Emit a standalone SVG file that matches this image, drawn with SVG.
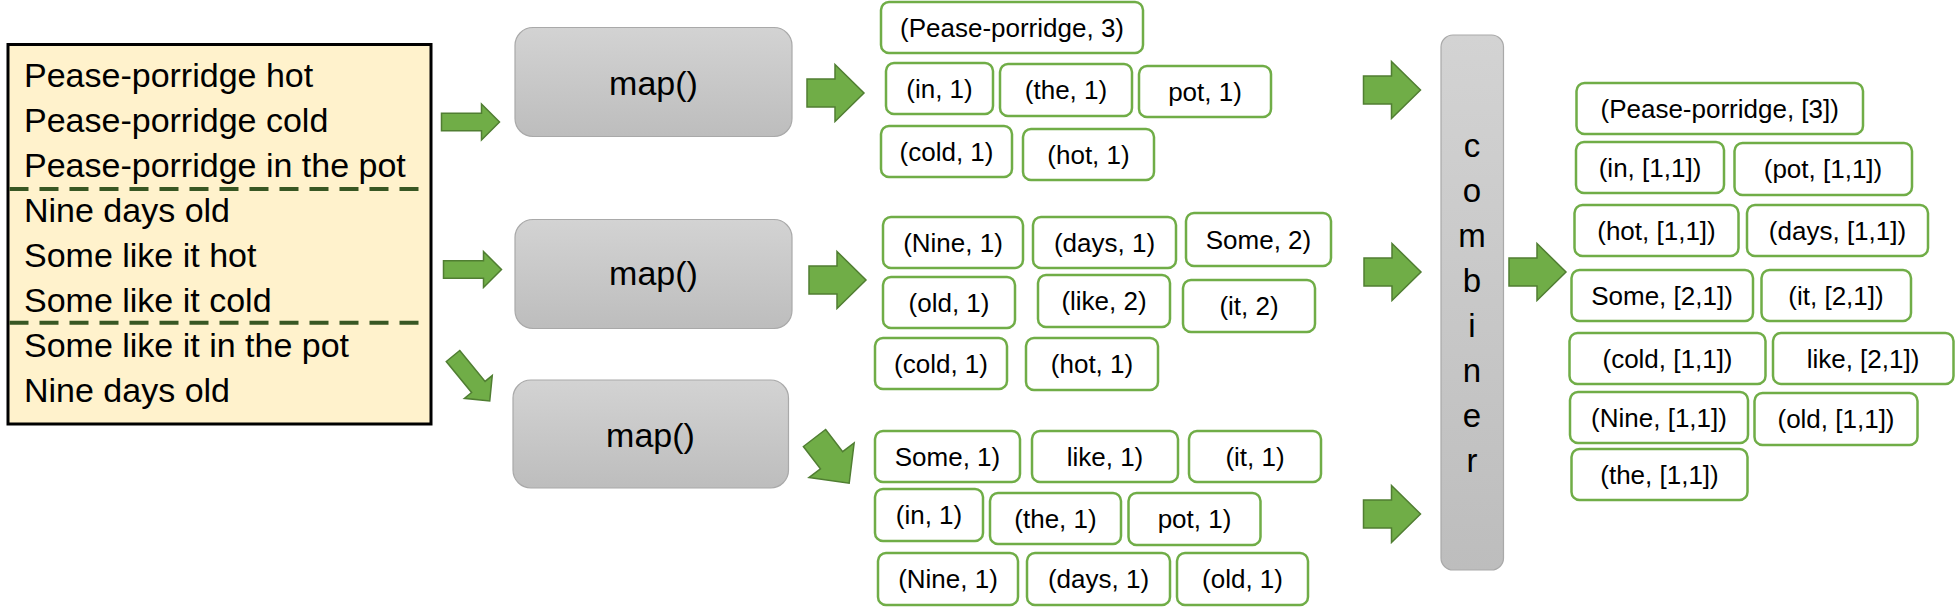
<svg xmlns="http://www.w3.org/2000/svg" xmlns:xlink="http://www.w3.org/1999/xlink" width="1955" height="615" viewBox="0 0 1955 615">
<style>
text{font-family:"Liberation Sans",Arial,sans-serif;fill:#000}
.src{font-size:34px}
.map{font-size:34px;text-anchor:middle}
.comb{font-size:33px;text-anchor:middle}
.tup rect{fill:#fff;stroke:#70AD47;stroke-width:2.5}
.tup text{font-size:26px;text-anchor:middle}
.proc{stroke:#A9A9A9;stroke-width:1.2}
.arr{fill:#70AD47;stroke:#507E32;stroke-width:1.5}
.dash{stroke:#385723;stroke-width:4;stroke-dasharray:19 11}
</style>
<defs>
<linearGradient id="gray" x1="0" y1="0" x2="0" y2="1">
<stop offset="0" stop-color="#D3D3D3"/>
<stop offset="1" stop-color="#BDBDBD"/>
</linearGradient>
<path id="arrS" d="M0,-8.7 H40 V-18 L58,0 L40,18 V8.7 H0 Z"/>
<path id="arrB" d="M0,-14 H28 V-28.5 L57,0 L28,28.5 V14 H0 Z"/>
</defs>
<rect width="1955" height="615" fill="#fff"/>

<g id="input">
<rect x="8" y="44.5" width="423" height="379.5" fill="#FFF2CC" stroke="#000" stroke-width="3"/>
<line class="dash" x1="9.5" y1="189" x2="429.5" y2="189"/>
<line class="dash" x1="9.5" y1="322.7" x2="429.5" y2="322.7"/>
<text class="src" x="24" y="87.3">Pease-porridge hot</text>
<text class="src" x="24" y="132.3">Pease-porridge cold</text>
<text class="src" x="24" y="176.7">Pease-porridge in the pot</text>
<text class="src" x="24" y="221.7">Nine days old</text>
<text class="src" x="24" y="266.7">Some like it hot</text>
<text class="src" x="24" y="311.7">Some like it cold</text>
<text class="src" x="24" y="356.7">Some like it in the pot</text>
<text class="src" x="24" y="401.7">Nine days old</text>
</g>

<g id="map1"><rect class="proc" x="515" y="27.5" width="277" height="109" rx="18" fill="url(#gray)"/><text class="map" x="653.5" y="95">map()</text></g>
<g id="map2"><rect class="proc" x="515" y="219.5" width="277" height="109" rx="18" fill="url(#gray)"/><text class="map" x="653.5" y="285">map()</text></g>
<g id="map3"><rect class="proc" x="513" y="380" width="275.5" height="108" rx="18" fill="url(#gray)"/><text class="map" x="650.5" y="447">map()</text></g>

<g id="combiner">
<rect class="proc" x="1441" y="35" width="62.5" height="535" rx="12" fill="url(#gray)"/>
<text class="comb" x="1472" y="156.7">c</text>
<text class="comb" x="1472" y="201.7">o</text>
<text class="comb" x="1472" y="246.7">m</text>
<text class="comb" x="1472" y="291.7">b</text>
<text class="comb" x="1472" y="336.7">i</text>
<text class="comb" x="1472" y="381.7">n</text>
<text class="comb" x="1472" y="426.7">e</text>
<text class="comb" x="1472" y="471.7">r</text>
</g>

<g id="t1_1" class="tup"><rect x="881" y="2" width="262" height="51" rx="8"/><text x="1012" y="36.5">(Pease-porridge, 3)</text></g>
<g id="t1_2" class="tup"><rect x="886" y="63" width="107" height="51" rx="8"/><text x="939.5" y="97.5">(in, 1)</text></g>
<g id="t1_3" class="tup"><rect x="1000" y="64" width="132" height="52" rx="8"/><text x="1066" y="99">(the, 1)</text></g>
<g id="t1_4" class="tup"><rect x="1139" y="66" width="132" height="51" rx="8"/><text x="1205" y="100.5">pot, 1)</text></g>
<g id="t1_5" class="tup"><rect x="881" y="126" width="131" height="51" rx="8"/><text x="946.5" y="160.5">(cold, 1)</text></g>
<g id="t1_6" class="tup"><rect x="1023" y="129" width="131" height="51" rx="8"/><text x="1088.5" y="163.5">(hot, 1)</text></g>

<g id="t2_1" class="tup"><rect x="883" y="217" width="140" height="51" rx="8"/><text x="953" y="251.5">(Nine, 1)</text></g>
<g id="t2_2" class="tup"><rect x="1033" y="217" width="143" height="51" rx="8"/><text x="1104.5" y="251.5">(days, 1)</text></g>
<g id="t2_3" class="tup"><rect x="1186" y="213" width="145" height="53" rx="8"/><text x="1258.5" y="248.5">Some, 2)</text></g>
<g id="t2_4" class="tup"><rect x="883" y="277" width="132" height="51" rx="8"/><text x="949" y="311.5">(old, 1)</text></g>
<g id="t2_5" class="tup"><rect x="1038" y="275" width="132" height="52" rx="8"/><text x="1104" y="310">(like, 2)</text></g>
<g id="t2_6" class="tup"><rect x="1183" y="280" width="132" height="52" rx="8"/><text x="1249" y="315">(it, 2)</text></g>
<g id="t2_7" class="tup"><rect x="875" y="338" width="132" height="51" rx="8"/><text x="941" y="372.5">(cold, 1)</text></g>
<g id="t2_8" class="tup"><rect x="1026" y="338" width="132" height="52" rx="8"/><text x="1092" y="373">(hot, 1)</text></g>

<g id="t3_1" class="tup"><rect x="875" y="431" width="145" height="51" rx="8"/><text x="947.5" y="465.5">Some, 1)</text></g>
<g id="t3_2" class="tup"><rect x="1032" y="431" width="146" height="51" rx="8"/><text x="1105" y="465.5">like, 1)</text></g>
<g id="t3_3" class="tup"><rect x="1189" y="431" width="132" height="51" rx="8"/><text x="1255" y="465.5">(it, 1)</text></g>
<g id="t3_4" class="tup"><rect x="875" y="489" width="108" height="52" rx="8"/><text x="929" y="524">(in, 1)</text></g>
<g id="t3_5" class="tup"><rect x="990" y="493" width="131" height="51" rx="8"/><text x="1055.5" y="527.5">(the, 1)</text></g>
<g id="t3_6" class="tup"><rect x="1128.5" y="493" width="132" height="52" rx="8"/><text x="1194.5" y="528">pot, 1)</text></g>
<g id="t3_7" class="tup"><rect x="878" y="553" width="140" height="52" rx="8"/><text x="948" y="588">(Nine, 1)</text></g>
<g id="t3_8" class="tup"><rect x="1027" y="553" width="143" height="52" rx="8"/><text x="1098.5" y="588">(days, 1)</text></g>
<g id="t3_9" class="tup"><rect x="1177" y="553" width="131" height="52" rx="8"/><text x="1242.5" y="588">(old, 1)</text></g>

<g id="o1" class="tup"><rect x="1576.5" y="83" width="286.5" height="51" rx="8"/><text x="1719.7" y="117.5">(Pease-porridge, [3])</text></g>
<g id="o2" class="tup"><rect x="1576" y="142" width="148" height="51" rx="8"/><text x="1650" y="176.5">(in, [1,1])</text></g>
<g id="o3" class="tup"><rect x="1734.5" y="143" width="177.5" height="52" rx="8"/><text x="1823" y="178">(pot, [1,1])</text></g>
<g id="o4" class="tup"><rect x="1574.5" y="205" width="164" height="51" rx="8"/><text x="1656.5" y="239.5">(hot, [1,1])</text></g>
<g id="o5" class="tup"><rect x="1747" y="205" width="181" height="51" rx="8"/><text x="1837.5" y="239.5">(days, [1,1])</text></g>
<g id="o6" class="tup"><rect x="1571.5" y="270" width="181.5" height="51" rx="8"/><text x="1662" y="304.5">Some, [2,1])</text></g>
<g id="o7" class="tup"><rect x="1761.5" y="270" width="149.5" height="51" rx="8"/><text x="1836" y="304.5">(it, [2,1])</text></g>
<g id="o8" class="tup"><rect x="1569.5" y="333" width="196" height="51" rx="8"/><text x="1667.5" y="367.5">(cold, [1,1])</text></g>
<g id="o9" class="tup"><rect x="1773" y="333" width="180.5" height="51" rx="8"/><text x="1863" y="367.5">like, [2,1])</text></g>
<g id="o10" class="tup"><rect x="1570" y="392" width="178" height="51" rx="8"/><text x="1659" y="426.5">(Nine, [1,1])</text></g>
<g id="o11" class="tup"><rect x="1754.5" y="393" width="163" height="52" rx="8"/><text x="1836" y="428">(old, [1,1])</text></g>
<g id="o12" class="tup"><rect x="1571.5" y="449" width="176" height="51" rx="8"/><text x="1659.5" y="483.5">(the, [1,1])</text></g>

<g id="connectors" class="arr">
<use xlink:href="#arrS" transform="translate(441.5,122)"/>
<use xlink:href="#arrS" transform="translate(443.5,269.5)"/>
<use xlink:href="#arrS" transform="translate(453,356) rotate(50.7)"/>
<use xlink:href="#arrB" transform="translate(807,93)"/>
<use xlink:href="#arrB" transform="translate(809,280)"/>
<use xlink:href="#arrB" transform="translate(814.5,438) rotate(52.5)"/>
<use xlink:href="#arrB" transform="translate(1363.5,90)"/>
<use xlink:href="#arrB" transform="translate(1364,272)"/>
<use xlink:href="#arrB" transform="translate(1509,272)"/>
<use xlink:href="#arrB" transform="translate(1363.5,514)"/>
</g>
</svg>
